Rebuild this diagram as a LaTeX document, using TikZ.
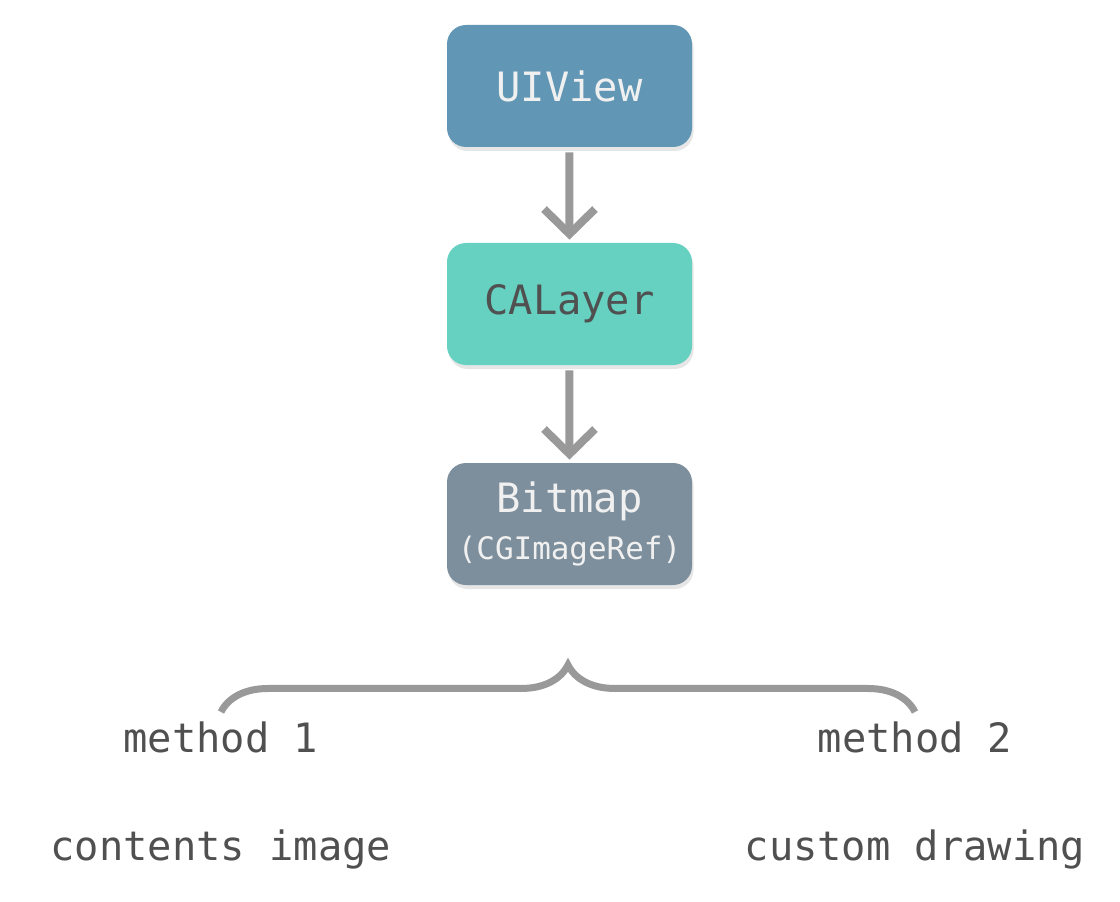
\documentclass[tikz,border=0pt]{standalone}
\usepackage{fontspec}
\setmonofont{DejaVu Sans Mono}
\usetikzlibrary{arrows.meta,shadows,decorations.pathreplacing}
\definecolor{viewblue}{RGB}{97,151,181}
\definecolor{layergreen}{RGB}{102,208,193}
\definecolor{bitmapgray}{RGB}{125,143,156}
\definecolor{linkgray}{RGB}{153,153,153}
\definecolor{textgray}{RGB}{80,80,80}
\begin{document}
\begin{tikzpicture}[scale=0.2,
  box/.style={rounded corners=0.38cm, minimum width=4.9cm, minimum height=2.44cm,
    inner sep=0pt, align=center, font=\ttfamily\fontsize{23}{26}\selectfont,
    drop shadow={shadow xshift=0.03cm, shadow yshift=-0.08cm, opacity=0.2}},
  link/.style={draw=linkgray, line width=0.16cm,
    -{Straight Barb[length=0.5cm, width=1.02cm]}, shorten <=0.1cm, shorten >=0.06cm},
  label/.style={text=textgray, font=\ttfamily\fontsize{23}{26}\selectfont}]
\useasboundingbox (0,0) rectangle (112,-90.2);
\node [box, fill=viewblue, text=white!94!black] (uiview) at (56.95,-8.6) {UIView};
\node [box, fill=layergreen, text=textgray] (calayer) at (56.95,-30.4) {CALayer};
\node [box, fill=bitmapgray, text=white!94!black] (bitmap) at (56.95,-52.4)
  {Bitmap\\[0.04cm]{\fontsize{17.6}{20}\selectfont(CGImageRef)}};
\draw [link] (uiview) -- (calayer);
\draw [link] (calayer) -- (bitmap);
\coordinate (left) at (22.1,-71.2);
\coordinate (right) at (91.5,-71.2);
\draw [linkgray, line width=0.14cm, decorate,
  decoration={brace, amplitude=0.94cm}] (left) -- (right);
\node [label, anchor=base] (method1) at (22.1,-75.2) {method 1};
\node [label, anchor=base] (method2) at (91.5,-75.2) {method 2};
\node [label, anchor=base] (contents) at (22.1,-86.0) {contents image};
\node [label, anchor=base] (custom) at (91.5,-86.0) {custom drawing};
\end{tikzpicture}
\end{document}
